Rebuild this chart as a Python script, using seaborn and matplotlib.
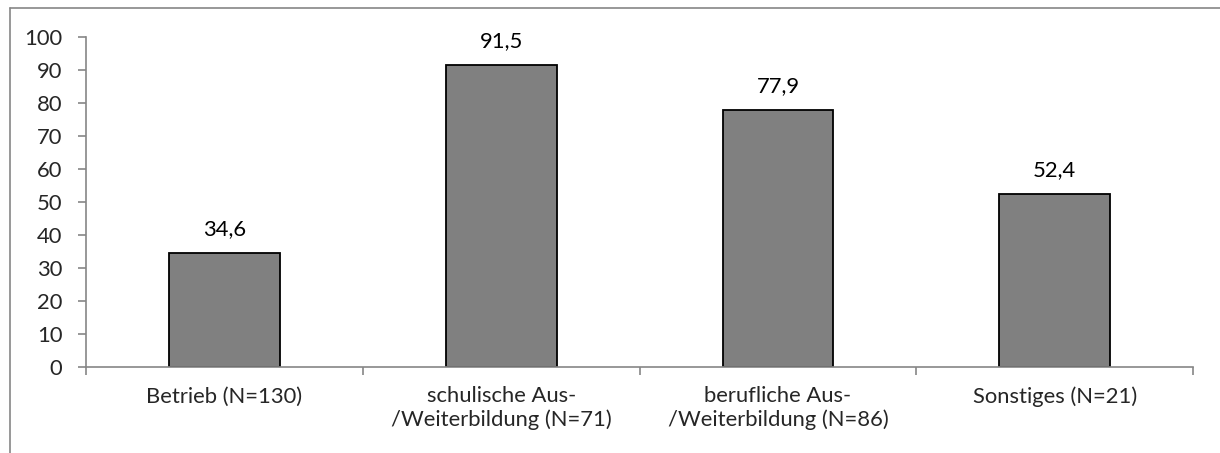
import matplotlib
matplotlib.use("Agg")
import matplotlib.pyplot as plt
from matplotlib.lines import Line2D
import seaborn as sns
import pandas as pd

categories = [
    "Betrieb (N=130)",
    "schulische Aus-\n/Weiterbildung (N=71)",
    "berufliche Aus-\n/Weiterbildung (N=86)",
    "Sonstiges (N=21)",
]
values = [34.6, 91.5, 77.9, 52.4]
y_ticks = list(range(0, 101, 10))

df = pd.DataFrame({"category": categories, "value": values})

sns.set_style("white")
plt.rcParams["font.family"] = ["Lato", "DejaVu Sans"]
fs = 15.8

fig = plt.figure(figsize=(12.2, 4.53), dpi=100)
ax = fig.add_axes([0.0705, 0.19, 0.9075, 0.728])

sns.barplot(
    data=df,
    x="category",
    y="value",
    color="#808080",
    saturation=1,
    width=0.4,
    edgecolor="black",
    linewidth=1.3,
    ax=ax,
)

# value labels with German decimal comma
for i, v in enumerate(values):
    ax.annotate(
        f"{v:.1f}".replace(".", ","),
        (i, v),
        xytext=(0, 10),
        textcoords="offset points",
        ha="center",
        va="bottom",
        fontsize=fs,
        color="black",
    )

ax.set_ylim(0, 100)
ax.set_xlim(-0.5, len(categories) - 0.5)
ax.set_yticks(y_ticks)
ax.set_yticklabels([str(t) for t in y_ticks], fontsize=fs)
ax.tick_params(axis="y", length=6, width=1.2, color="#868686", pad=11, left=True)
ax.tick_params(axis="x", which="major", length=0, pad=14, labelsize=fs)
ax.set_xticks([i - 0.5 for i in range(len(categories) + 1)], minor=True)
ax.tick_params(axis="x", which="minor", length=6, width=1.2, color="#868686", bottom=True)
ax.set_xlabel("")
ax.set_ylabel("")

for side in ["top", "right"]:
    ax.spines[side].set_visible(False)
for side in ["left", "bottom"]:
    ax.spines[side].set_color("#868686")
    ax.spines[side].set_linewidth(1.2)

# chart area border (top and left visible)
fig.add_artist(Line2D([10 / 1220, 1], [1 - 8 / 453, 1 - 8 / 453], color="#868686", lw=1.2, transform=fig.transFigure))
fig.add_artist(Line2D([10 / 1220, 10 / 1220], [0, 1 - 8 / 453], color="#868686", lw=1.2, transform=fig.transFigure))

fig.savefig("out.png", dpi=100, facecolor="white")
